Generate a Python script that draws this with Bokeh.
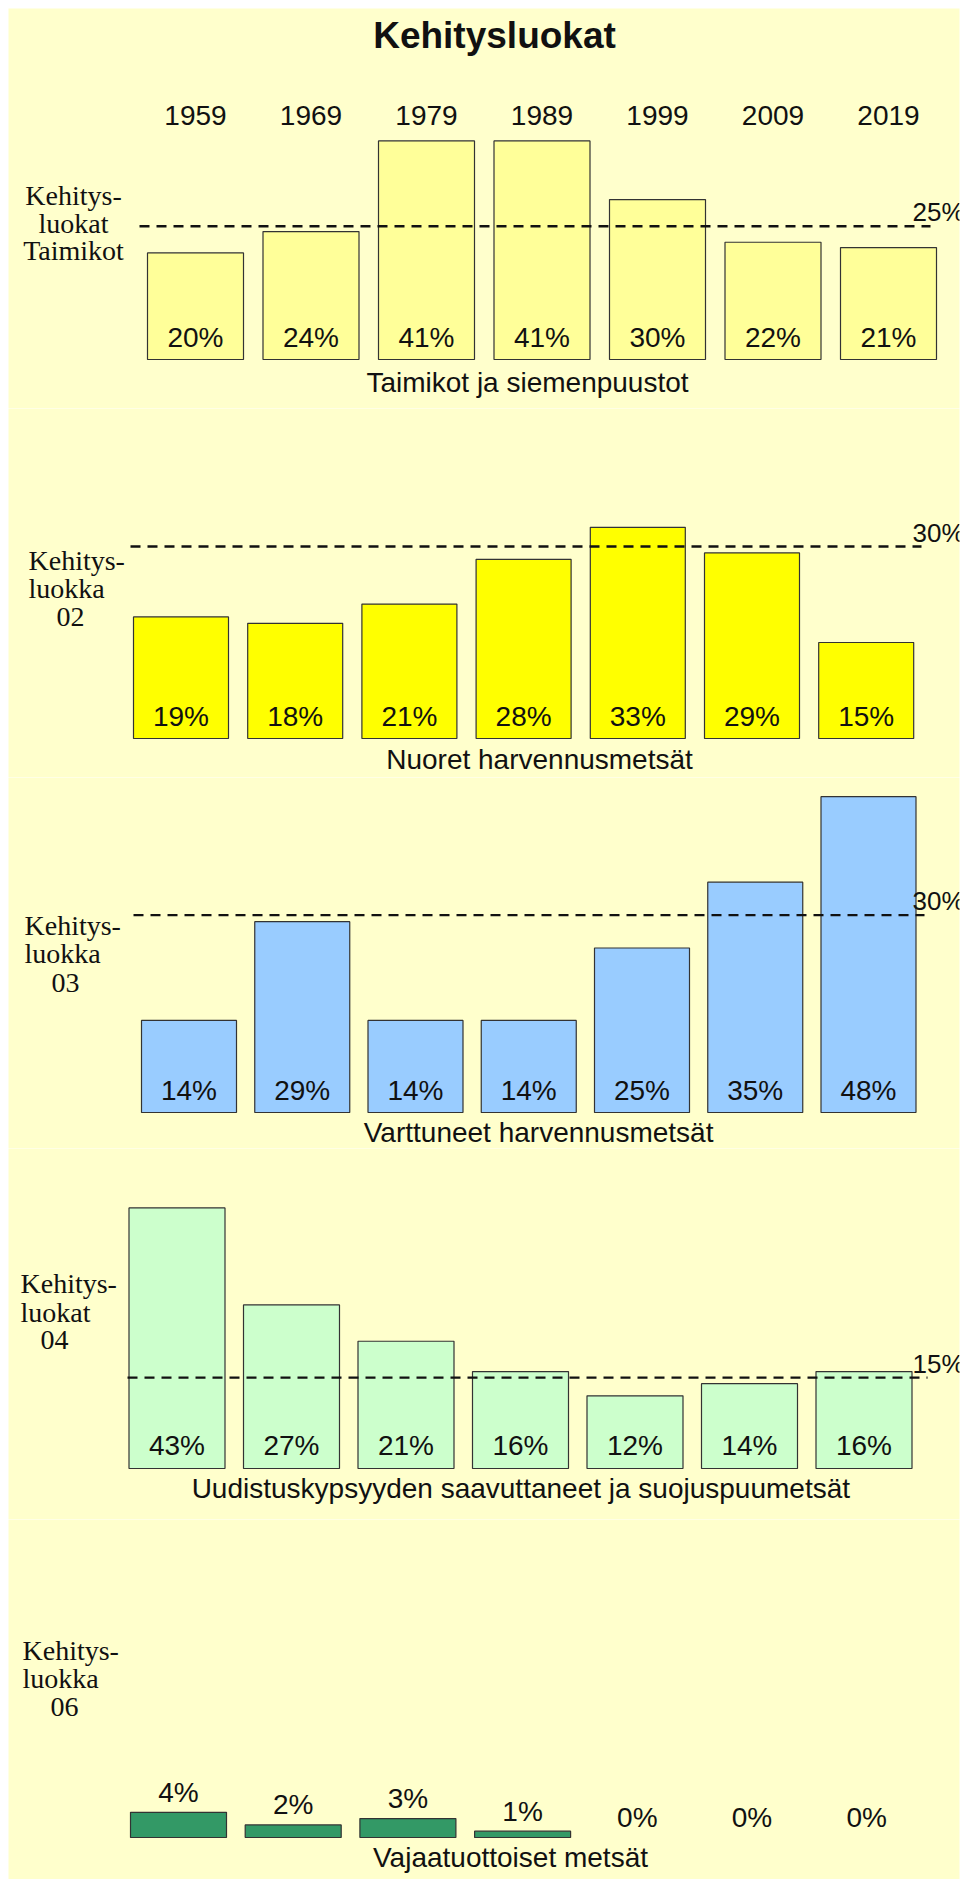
from bokeh.plotting import figure
from bokeh.layouts import column
from bokeh.models import Range1d, Label
from bokeh.embed import file_html
from bokeh.resources import INLINE
from bokeh.core.properties import value

# ---------------- data ----------------
years = ["1959", "1969", "1979", "1989", "1999", "2009", "2019"]
taimikot = [20, 24, 41, 41, 30, 22, 21]
nuoret = [19, 18, 21, 28, 33, 29, 15]
varttuneet = [14, 29, 14, 14, 25, 35, 48]
uudistus = [43, 27, 21, 16, 12, 14, 16]
vajaa = [4, 2, 3, 1, 0, 0, 0]

title = "Kehitysluokat"
subtitles = ["Taimikot ja siemenpuustot", "Nuoret harvennusmetsät",
             "Varttuneet  harvennusmetsät",
             "Uudistuskypsyyden  saavuttaneet  ja  suojuspuumetsät",
             "Vajaatuottoiset metsät"]
side_labels = [["Kehitys-", "luokat", "Taimikot"],
               ["Kehitys-", "luokka", "02"],
               ["Kehitys-", "luokka", "03"],
               ["Kehitys-", "luokat", "04"],
               ["Kehitys-", "luokka", "06"]]
reference = [25, 30, 30, 15, None]
series = [taimikot, nuoret, varttuneet, uudistus, vajaa]
colors = ["#FFFF99", "#FFFF00", "#99CCFF", "#CCFFCC", "#339966"]

# ---------------- layout (page pixels) ----------------
PAGE_W = 967
FL = 8            # frame left (page px)
FW = 951          # frame width
BG = "#FFFFCC"
SANS = "Liberation Sans"
SERIF = "Liberation Serif"
INK = "#111111"

panels = [
    dict(top=8, H=400, yb=351, s=5.33, c0=187, d=115.5, bw=96, pct=337, sub=382, subx=527,
         side=[195, 223, 250], sidex=73, align="center", indent=0, rx=(139, 930)),
    dict(top=408, H=369, yb=330, s=6.4, c0=172.5, d=114.2, bw=95, pct=716, sub=759, subx=539,
         side=[560, 588, 616], sidex=28, align="left", indent=28, rx=(130, 921)),
    dict(top=777, H=371, yb=335, s=6.58, c0=180.5, d=113.25, bw=95, pct=1090, sub=1132, subx=542,
         side=[925, 953, 982], sidex=24, align="left", indent=27, rx=(133, 924)),
    dict(top=1148, H=371, yb=320, s=6.06, c0=168.5, d=114.5, bw=96, pct=1445, sub=1488, subx=532,
         side=[1283, 1312, 1339], sidex=20, align="left", indent=20, rx=(127, 927)),
    dict(top=1519, H=360, yb=318, s=6.3, c0=170, d=114.7, bw=96, pct=None, sub=1857, subx=510,
         side=[1650, 1678, 1706], sidex=22, align="left", indent=28, rx=None),
]

figs = []
for k, cfg in enumerate(panels):
    top, H, yb, s, c0, d = cfg["top"], cfg["H"], cfg["yb"], cfg["s"], cfg["c0"], cfg["d"]
    extra_top = 8 if k == 0 else 0

    def px2x(px, c0=c0, d=d):
        return (px - FL - c0) / d

    def py2y(py, top=top, yb=yb, s=s):
        return (yb - (py - top)) / s

    p = figure(width=PAGE_W, height=H + extra_top,
               x_range=Range1d(-c0 / d, (FW - c0) / d),
               y_range=Range1d(-(H - yb) / s, yb / s),
               output_backend="svg", toolbar_location=None,
               x_axis_location=None, y_axis_location=None,
               min_border_left=FL, min_border_right=PAGE_W - FL - FW,
               min_border_top=extra_top, min_border_bottom=0,
               background_fill_color=BG, border_fill_color="white",
               outline_line_color=None)
    p.grid.visible = False

    vals = series[k]
    xs = list(range(len(years)))
    p.vbar(x=xs, top=vals, bottom=0, width=cfg["bw"] / d,
           fill_color=colors[k], line_color="#333333", line_width=1.2,
           line_alpha=[1.0 if v > 0 else 0.0 for v in vals])

    # percentage labels
    if cfg["pct"] is not None:
        ys = [py2y(cfg["pct"])] * len(vals)
    else:
        ys = [v + 20 / s for v in vals]
    p.text(x=xs, y=ys, text=[f"{v}%" for v in vals], text_align="center",
           text_baseline="middle", text_font=value(SANS), text_font_size="28px",
           text_color=INK)

    # reference line
    ref = reference[k]
    if ref is not None:
        x0, x1 = cfg["rx"]
        p.line(x=[px2x(x0), px2x(x1)], y=[ref, ref], line_color="#111111",
               line_width=2.4, line_dash="10 7")
        p.add_layout(Label(x=px2x(964), y=ref + 14 / s, text=f"{ref}%",
                           text_align="right", text_baseline="middle",
                           text_font=SANS, text_font_size="26px", text_color=INK))

    # side labels (serif)
    for j, (line_txt, ly) in enumerate(zip(side_labels[k], cfg["side"])):
        if cfg["align"] == "center":
            lx, al = cfg["sidex"], "center"
        else:
            lx, al = cfg["sidex"] + (cfg["indent"] if j == 2 else 0), "left"
        p.text(x=[px2x(lx)], y=[py2y(ly)], text=[line_txt], text_align=al,
               text_baseline="middle", text_font=value(SERIF), text_font_size="28px",
               text_color=INK)

    # subtitle
    p.text(x=[px2x(cfg["subx"])], y=[py2y(cfg["sub"])], text=[subtitles[k]],
           text_align="center", text_baseline="middle", text_font=value(SANS),
           text_font_size="28px", text_color=INK)

    if k == 0:
        p.text(x=[px2x(494)], y=[py2y(35)], text=[title], text_align="center",
               text_baseline="middle", text_font=value(SANS), text_font_style="bold",
               text_font_size="37px", text_color=INK)
        p.text(x=xs, y=[py2y(115)] * len(years), text=years, text_align="center",
               text_baseline="middle", text_font=value(SANS), text_font_size="28px",
               text_color=INK)

    figs.append(p)

layout = column(*figs, spacing=0)
open("out.html", "w").write(file_html(layout, INLINE))
